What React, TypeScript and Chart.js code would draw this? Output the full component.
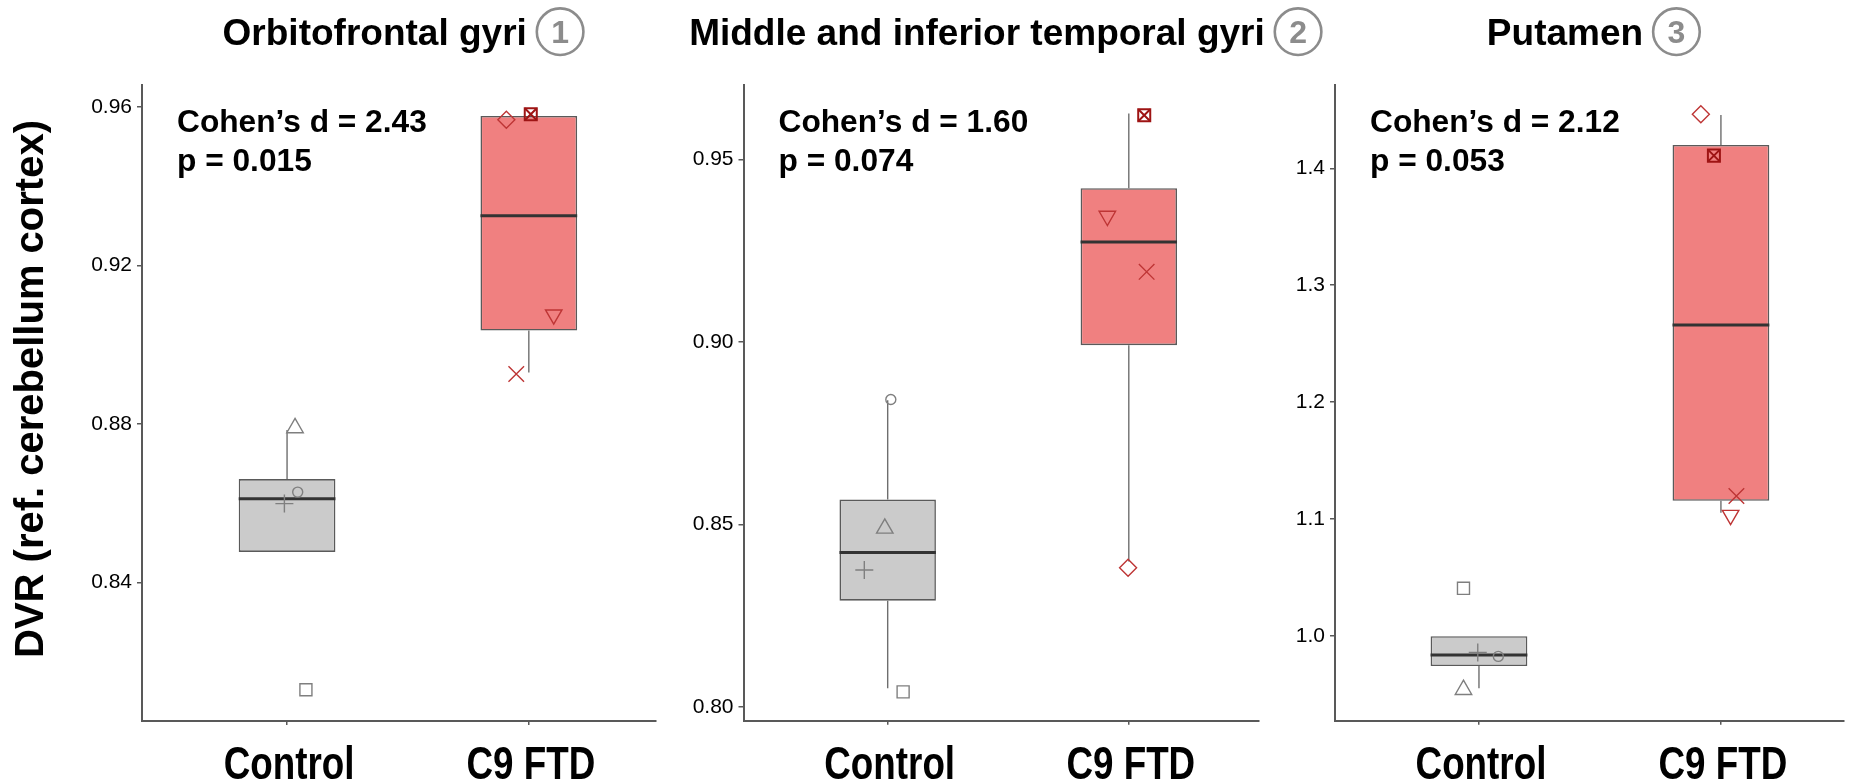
import React, { useEffect, useRef } from 'react';
import { Chart, registerables } from 'chart.js';

Chart.register(...registerables);

// ---------------- data ----------------
const categories = ['Control', 'C9 FTD'];
const panelTitles = ['Orbitofrontal gyri', 'Middle and inferior temporal gyri', 'Putamen'];
const panelNumbers = ['1', '2', '3'];
const cohensD = ['2.43', '1.60', '2.12'];
const pValues = ['0.015', '0.074', '0.053'];
const yAxisTitle = 'DVR (ref. cerebellum cortex)';

const yTicks1 = [0.84, 0.88, 0.92, 0.96];
const yTicks2 = [0.8, 0.85, 0.9, 0.95];
const yTicks3 = [1.0, 1.1, 1.2, 1.3, 1.4];

// subject marker shapes (same subjects in every panel)
const controlShapes = ['square', 'plus', 'circle', 'triangle'];
const c9Shapes = ['diamond', 'squareX', 'x', 'triangleDown'];

// box statistics: [lower whisker end, Q1, median, Q3, upper whisker end] (null = none drawn)
const box1Control = [null, 0.8477, 0.8611, 0.8661, 0.8785];
const box1C9 = [0.893, 0.9036, 0.9326, 0.9578, null];
const box2Control = [0.8051, 0.8291, 0.8423, 0.8568, 0.884];
const box2C9 = [0.8398, 0.8991, 0.9274, 0.9421, 0.9626];
const box3Control = [0.9553, 0.9743, 0.9837, 0.9998, null];
const box3C9 = [1.1054, 1.1157, 1.266, 1.4199, 1.4456];

// individual subject values (order follows the shape lists)
const points1Control = [0.8129, 0.8599, 0.8628, 0.879];
const points1C9 = [0.9568, 0.9582, 0.8926, 0.9076];
const points2Control = [0.8041, 0.8375, 0.8842, 0.8489];
const points2C9 = [0.8381, 0.9621, 0.9192, 0.9345];
const points3Control = [1.0408, 0.986, 0.9826, 0.9541];
const points3C9 = [1.4462, 1.4108, 1.1197, 1.1034];

// horizontal jitter of each subject (category units)
const jitter1Control = [0.078, -0.011, 0.044, 0.033];
const jitter1C9 = [-0.093, 0.008, -0.052, 0.103];
const jitter2Control = [0.064, -0.097, 0.013, -0.012];
const jitter2C9 = [-0.003, 0.064, 0.074, -0.089];
const jitter3Control = [-0.064, -0.005, 0.08, -0.064];
const jitter3C9 = [-0.083, -0.029, 0.064, 0.04];

// ---------------- styles / layout ----------------
const W = 1856;
const H = 779;
const FONT = '"Liberation Sans", Arial, Helvetica, sans-serif';
const BOX_HALF = 0.2;
const BOX_FILLS = ['#CBCBCB', '#F08080'];
const BOX_EDGE = '#5a5a5a';
const MEDIAN_COLOR = '#333333';
const WHISKER_COLOR = '#6e6e6e';
const AXIS_COLOR = '#595959';
const GROUP_POINT_COLORS = ['#7f7f7f', '#BE3535'];
const SQUAREX_COLOR = '#9E1414';

const shapeStyles: Record<string, { style: string; radius: number; rotation: number }[]> = {
  square: [{ style: 'rect', radius: 8.5, rotation: 0 }],
  plus: [{ style: 'cross', radius: 9, rotation: 0 }],
  circle: [{ style: 'circle', radius: 5, rotation: 0 }],
  triangle: [{ style: 'triangle', radius: 9.5, rotation: 0 }],
  diamond: [{ style: 'rectRot', radius: 8.5, rotation: 0 }],
  squareX: [
    { style: 'rect', radius: 8.5, rotation: 0 },
    { style: 'crossRot', radius: 8.5, rotation: 0 },
  ],
  x: [{ style: 'crossRot', radius: 11, rotation: 0 }],
  triangleDown: [{ style: 'triangle', radius: 9.5, rotation: 180 }],
};

const panels = [
  {
    title: panelTitles[0], num: panelNumbers[0], d: cohensD[0], p: pValues[0],
    ticks: yTicks1, dec: 2, yMin: 0.805, yMax: 0.9656, xMin: 0.4, xMax: 2.526,
    area: { left: 142, right: 656, top: 85, bottom: 721 },
    boxes: [box1Control, box1C9], pts: [points1Control, points1C9], jit: [jitter1Control, jitter1C9],
    yTitle: true,
  },
  {
    title: panelTitles[1], num: panelNumbers[1], d: cohensD[1], p: pValues[1],
    ticks: yTicks2, dec: 2, yMin: 0.7962, yMax: 0.9704, xMin: 0.402, xMax: 2.54,
    area: { left: 743.5, right: 1259, top: 85, bottom: 720.7 },
    boxes: [box2Control, box2C9], pts: [points2Control, points2C9], jit: [jitter2Control, jitter2C9],
    yTitle: false,
  },
  {
    title: panelTitles[2], num: panelNumbers[2], d: cohensD[2], p: pValues[2],
    ticks: yTicks3, dec: 1, yMin: 0.9276, yMax: 1.4712, xMin: 0.405, xMax: 2.507,
    area: { left: 1335, right: 1856, top: 85, bottom: 720.7 },
    boxes: [box3Control, box3C9], pts: [points3Control, points3C9], jit: [jitter3Control, jitter3C9],
    yTitle: false,
  },
];

const panelTextPlugin = {
  id: 'panelText',
  afterDraw(chart: any, _args: any, opts: any) {
    const { ctx, chartArea } = chart;
    ctx.save();
    // title + circled number
    const TITLE_SIZE = 37;
    const CIRCLE_R = 23.3;
    const GAP = 10;
    ctx.font = `bold ${TITLE_SIZE}px ${FONT}`;
    const tw = ctx.measureText(opts.title).width;
    const groupW = tw + GAP + 2 * CIRCLE_R;
    const x0 = (chartArea.left + chartArea.right) / 2 + 4 - groupW / 2;
    ctx.fillStyle = '#000';
    ctx.textAlign = 'left';
    ctx.textBaseline = 'alphabetic';
    ctx.fillText(opts.title, x0, 45);
    const ccx = x0 + tw + GAP + CIRCLE_R;
    ctx.beginPath();
    ctx.arc(ccx, 31.7, CIRCLE_R, 0, Math.PI * 2);
    ctx.strokeStyle = '#8c8c8c';
    ctx.lineWidth = 2.6;
    ctx.stroke();
    ctx.fillStyle = '#8c8c8c';
    ctx.font = `bold 32px ${FONT}`;
    ctx.textAlign = 'center';
    ctx.fillText(opts.num, ccx, 43.3);

    // statistics annotation
    ctx.fillStyle = '#000';
    ctx.textAlign = 'left';
    ctx.font = `bold 31.7px ${FONT}`;
    ctx.fillText(`Cohen\u2019s d = ${opts.d}`, chartArea.left + 35, 132);
    ctx.fillText(`p = ${opts.p}`, chartArea.left + 35, 170.5);

    // category labels (tall, slightly condensed bold), positioned on the x scale
    const xs = chart.scales.x;
    ctx.font = `bold 46px ${FONT}`;
    ctx.textAlign = 'center';
    categories.forEach((c, i) => {
      const px = xs.getPixelForValue(i + 1) + 2;
      ctx.save();
      ctx.translate(px, 779);
      ctx.scale(0.8, 1);
      ctx.fillText(c, 0, 0);
      ctx.restore();
    });

    if (opts.yTitle) {
      ctx.translate(43, 389);
      ctx.rotate(-Math.PI / 2);
      ctx.font = `bold 40px ${FONT}`;
      ctx.textAlign = 'center';
      ctx.fillText(yAxisTitle, 0, 0);
    }
    ctx.restore();
  },
};

function segment(data: { x: number; y: number }[], color: string, width: number, order: number) {
  return {
    type: 'line',
    data,
    borderColor: color,
    borderWidth: width,
    pointRadius: 0,
    fill: false,
    tension: 0,
    order,
  };
}

function buildDatasets(panel: any) {
  const ds: any[] = [];
  ds.push({
    type: 'bar',
    data: panel.boxes.map((b: any, i: number) => ({ x: i + 1, y: [b[1], b[3]] })),
    backgroundColor: BOX_FILLS,
    borderColor: BOX_EDGE,
    borderWidth: 1.6,
    borderSkipped: false,
    barPercentage: 2 * BOX_HALF,
    categoryPercentage: 1,
    order: 5,
  });
  panel.boxes.forEach((b: any, i: number) => {
    const x = i + 1;
    if (b[0] != null) ds.push(segment([{ x, y: b[0] }, { x, y: b[1] }], WHISKER_COLOR, 1.4, 4));
    if (b[4] != null) ds.push(segment([{ x, y: b[3] }, { x, y: b[4] }], WHISKER_COLOR, 1.4, 4));
    ds.push(segment([{ x: x - BOX_HALF, y: b[2] }, { x: x + BOX_HALF, y: b[2] }], MEDIAN_COLOR, 3, 3));
  });
  [controlShapes, c9Shapes].forEach((shapes, g) => {
    shapes.forEach((shape, k) => {
      const isSqX = shape === 'squareX';
      shapeStyles[shape].forEach((st) => {
        ds.push({
          type: 'scatter',
          data: [{ x: g + 1 + panel.jit[g][k], y: panel.pts[g][k] }],
          pointStyle: st.style,
          pointRadius: st.radius,
          pointRotation: st.rotation,
          pointBorderColor: isSqX ? SQUAREX_COLOR : GROUP_POINT_COLORS[g],
          pointBackgroundColor: 'rgba(0,0,0,0)',
          pointBorderWidth: isSqX ? 2 : 1.4,
          borderColor: isSqX ? SQUAREX_COLOR : GROUP_POINT_COLORS[g],
          backgroundColor: 'rgba(0,0,0,0)',
          showLine: false,
          order: 1,
        });
      });
    });
  });
  return ds;
}

function Panel({ panel }: { panel: any }) {
  const ref = useRef<HTMLCanvasElement | null>(null);
  useEffect(() => {
    if (!ref.current) return;
    const a = panel.area;
    const chart = new Chart(ref.current, {
      type: 'bar',
      data: { datasets: buildDatasets(panel) as any },
      options: {
        animation: false,
        responsive: false,
        devicePixelRatio: 1,
        events: [],
        layout: { padding: { left: 0, right: W - a.right, top: a.top, bottom: 0 } },
        plugins: {
          legend: { display: false },
          tooltip: { enabled: false },
          panelText: { title: panel.title, num: panel.num, d: panel.d, p: panel.p, yTitle: panel.yTitle },
        } as any,
        scales: {
          x: {
            type: 'linear',
            min: panel.xMin,
            max: panel.xMax,
            offset: false,
            grid: { display: true, offset: false, drawOnChartArea: false, drawTicks: true, tickLength: 4, color: AXIS_COLOR, lineWidth: 1.5 },
            border: { display: true, color: AXIS_COLOR, width: 2 },
            afterBuildTicks: (s: any) => { s.ticks = categories.map((_, i) => ({ value: i + 1 })); },
            afterFit: (s: any) => { s.height = H - a.bottom; },
            ticks: { display: false },
          },
          y: {
            type: 'linear',
            min: panel.yMin,
            max: panel.yMax,
            grid: { display: true, drawOnChartArea: false, drawTicks: true, tickLength: 5, color: AXIS_COLOR, lineWidth: 1.5 },
            border: { display: true, color: AXIS_COLOR, width: 2 },
            afterBuildTicks: (s: any) => { s.ticks = panel.ticks.map((v: number) => ({ value: v })); },
            afterFit: (s: any) => { s.width = a.left; },
            ticks: {
              color: '#000',
              padding: 5,
              font: { family: FONT, size: 21 },
              callback: (v: any) => Number(v).toFixed(panel.dec),
            },
          },
        },
      } as any,
      plugins: [panelTextPlugin as any],
    });
    return () => chart.destroy();
  }, [panel]);
  return <canvas ref={ref} width={W} height={H} style={{ position: 'absolute', left: 0, top: 0 }} />;
}

export default function App() {
  return (
    <div style={{ position: 'absolute', left: 0, top: 0, width: W, height: H, background: '#fff', overflow: 'hidden' }}>
      {panels.map((p, i) => (
        <Panel key={i} panel={p} />
      ))}
    </div>
  );
}
